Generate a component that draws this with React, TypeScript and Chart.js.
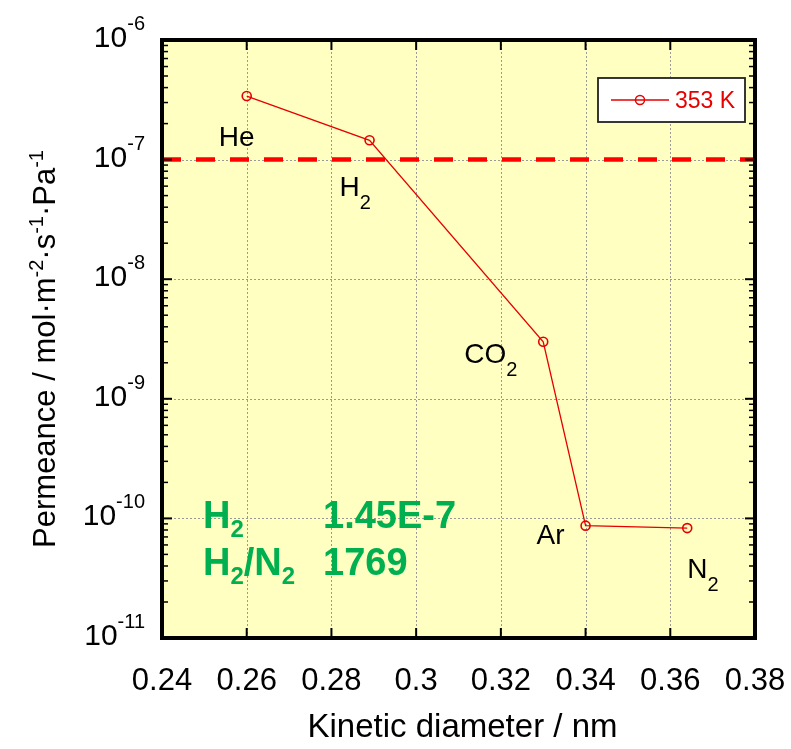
import React, { useEffect, useRef } from 'react';
import { Chart, registerables } from 'chart.js';

Chart.register(...registerables);

// ---- data ----
const gasNames = ['He', 'H2', 'CO2', 'Ar', 'N2'];
const kineticDiameterNm = [0.26, 0.289, 0.33, 0.34, 0.364];
const permeance353K = [3.4e-7, 1.45e-7, 3.0e-9, 8.7e-11, 8.3e-11];
const xTickValues = [0.24, 0.26, 0.28, 0.3, 0.32, 0.34, 0.36, 0.38];
const xTickLabels = ['0.24', '0.26', '0.28', '0.3', '0.32', '0.34', '0.36', '0.38'];
const yDecadeExponents = [-11, -10, -9, -8, -7, -6];
const targetPermeance = 1e-7;
const seriesLabel = '353 K';
const summaryNames = ['H2', 'H2/N2'];
const summaryValues = ['1.45E-7', '1769'];
const xTitle = 'Kinetic diameter / nm';

// ---- styles ----
const FONT = '"Liberation Sans", Arial, "Noto Sans", sans-serif';
const RED = '#E60000';
const GREEN = '#00B050';
const gasLabelOffsets: [number, number][] = [[-28, 50], [-30, 56], [-79, 21], [-49, 18], [0, 50]];

function drawRich(ctx: CanvasRenderingContext2D, text: string, x: number, y: number,
  font: string, subFont: string, subDy: number, color: string) {
  ctx.fillStyle = color;
  ctx.textAlign = 'left';
  ctx.textBaseline = 'alphabetic';
  let cx = x;
  for (let i = 0; i < text.length; i++) {
    const ch = text[i];
    const isSub = /[0-9]/.test(ch) && i > 0 && /[A-Za-z]/.test(text[i - 1]);
    ctx.font = isSub ? subFont : font;
    ctx.fillText(ch, cx, isSub ? y + subDy : y);
    cx += ctx.measureText(ch).width;
  }
  return cx;
}

function line(ctx: CanvasRenderingContext2D, x1: number, y1: number, x2: number, y2: number) {
  ctx.beginPath();
  ctx.moveTo(x1, y1);
  ctx.lineTo(x2, y2);
  ctx.stroke();
}

const framePlugin = {
  id: 'frameDecor',
  beforeDraw(chart: any) {
    const { ctx, chartArea: a } = chart;
    const xs = chart.scales.x;
    const ys = chart.scales.y;
    ctx.save();
    ctx.fillStyle = '#ffffff';
    ctx.fillRect(0, 0, chart.width, chart.height);
    ctx.fillStyle = '#FFFFC2';
    ctx.fillRect(a.left, a.top, a.right - a.left, a.bottom - a.top);
    ctx.strokeStyle = '#9a9a9a';
    ctx.lineWidth = 1;
    ctx.setLineDash([2, 2]);
    xTickValues.forEach((v) => {
      const px = Math.round(xs.getPixelForValue(v)) + 0.5;
      line(ctx, px, a.top, px, a.bottom);
    });
    yDecadeExponents.forEach((e) => {
      const py = Math.round(ys.getPixelForValue(Math.pow(10, e))) + 0.5;
      line(ctx, a.left, py, a.right, py);
    });
    ctx.restore();
  },
  afterDatasetsDraw(chart: any) {
    const { ctx, chartArea: a } = chart;
    const xs = chart.scales.x;
    const ys = chart.scales.y;
    ctx.save();
    ctx.setLineDash([]);

    // frame
    ctx.strokeStyle = '#000';
    ctx.lineWidth = 4;
    ctx.strokeRect(a.left, a.top, a.right - a.left, a.bottom - a.top);

    // x ticks (top & bottom)
    ctx.lineWidth = 2;
    xTickValues.forEach((v) => {
      const px = xs.getPixelForValue(v);
      line(ctx, px, a.top, px, a.top + 10);
      line(ctx, px, a.bottom, px, a.bottom - 10);
    });
    // y ticks (left & right)
    yDecadeExponents.forEach((e, idx) => {
      const py = ys.getPixelForValue(Math.pow(10, e));
      ctx.lineWidth = 2;
      line(ctx, a.left, py, a.left + 10, py);
      line(ctx, a.right, py, a.right - 10, py);
      if (idx < yDecadeExponents.length - 1) {
        ctx.lineWidth = 1.5;
        for (let k = 2; k <= 9; k++) {
          const pm = ys.getPixelForValue(k * Math.pow(10, e));
          line(ctx, a.left, pm, a.left + 6, pm);
          line(ctx, a.right, pm, a.right - 6, pm);
        }
      }
    });

    // x tick labels
    ctx.fillStyle = '#000';
    ctx.font = `31px ${FONT}`;
    ctx.textAlign = 'center';
    ctx.textBaseline = 'alphabetic';
    xTickValues.forEach((v, i) => {
      ctx.fillText(xTickLabels[i], xs.getPixelForValue(v), a.bottom + 52);
    });

    // y tick labels 10^n
    yDecadeExponents.forEach((e) => {
      const py = ys.getPixelForValue(Math.pow(10, e));
      const right = a.left - 17;
      ctx.font = `20px ${FONT}`;
      const expText = String(e);
      const w2 = ctx.measureText(expText).width;
      ctx.font = `30px ${FONT}`;
      const w1 = ctx.measureText('10').width;
      ctx.textAlign = 'left';
      ctx.fillText('10', right - w2 - w1, py + 7);
      ctx.font = `20px ${FONT}`;
      ctx.fillText(expText, right - w2, py - 10);
    });

    // x title
    ctx.font = `33px ${FONT}`;
    ctx.textAlign = 'center';
    ctx.fillText(xTitle, (a.left + a.right) / 2 + 4, a.bottom + 99);

    // y title (rotated, with superscripts)
    const parts: [string, boolean][] = [
      ['Permeance / mol\u00B7m', false], ['-2', true], ['\u00B7s', false], ['-1', true],
      ['\u00B7Pa', false], ['-1', true],
    ];
    const mainF = `31px ${FONT}`;
    const supF = `20px ${FONT}`;
    let total = 0;
    parts.forEach(([t, s]) => { ctx.font = s ? supF : mainF; total += ctx.measureText(t).width; });
    ctx.translate(55, (a.top + a.bottom) / 2 + 10);
    ctx.rotate(-Math.PI / 2);
    ctx.textAlign = 'left';
    let cx = -total / 2;
    parts.forEach(([t, s]) => {
      ctx.font = s ? supF : mainF;
      ctx.fillText(t, cx, s ? -12 : 0);
      cx += ctx.measureText(t).width;
    });
    ctx.setTransform(1, 0, 0, 1, 0, 0);

    // gas labels next to points
    gasNames.forEach((g, i) => {
      const px = xs.getPixelForValue(kineticDiameterNm[i]);
      const py = ys.getPixelForValue(permeance353K[i]);
      const [dx, dy] = gasLabelOffsets[i];
      drawRich(ctx, g, px + dx, py + dy, `28px ${FONT}`, `20px ${FONT}`, 13, '#000');
    });

    // legend box
    const ds = chart.data.datasets[0];
    const lx1 = a.right - 157, lx2 = a.right - 10, ly1 = a.top + 38, ly2 = a.top + 82;
    ctx.fillStyle = '#fff';
    ctx.fillRect(lx1, ly1, lx2 - lx1, ly2 - ly1);
    ctx.strokeStyle = '#222';
    ctx.lineWidth = 1.8;
    ctx.strokeRect(lx1, ly1, lx2 - lx1, ly2 - ly1);
    const lyMid = (ly1 + ly2) / 2;
    ctx.strokeStyle = ds.borderColor;
    ctx.lineWidth = 1.3;
    line(ctx, lx1 + 13, lyMid, lx1 + 71, lyMid);
    ctx.lineWidth = 1.5;
    ctx.beginPath();
    ctx.arc(lx1 + 42, lyMid, 4.5, 0, Math.PI * 2);
    ctx.stroke();
    ctx.fillStyle = ds.borderColor;
    ctx.font = `23px ${FONT}`;
    ctx.textAlign = 'left';
    ctx.fillText(ds.label, lx1 + 77, lyMid + 8);

    // green summary
    summaryNames.forEach((n, i) => {
      const by = a.bottom - 110 + i * 47;
      drawRich(ctx, n, a.left + 41, by, `bold 38px ${FONT}`, `bold 24px ${FONT}`, 9, GREEN);
      ctx.font = `bold 38px ${FONT}`;
      ctx.fillStyle = GREEN;
      ctx.fillText(summaryValues[i], a.left + 161, by);
    });

    ctx.restore();
  },
};

export default function App() {
  const ref = useRef<HTMLCanvasElement | null>(null);
  useEffect(() => {
    if (!ref.current) return;
    const chart = new Chart(ref.current, {
      type: 'line',
      data: {
        datasets: [
          {
            label: seriesLabel,
            data: kineticDiameterNm.map((x, i) => ({ x, y: permeance353K[i] })),
            borderColor: RED,
            borderWidth: 1.3,
            pointRadius: 4.5,
            pointBorderWidth: 1.6,
            pointBorderColor: RED,
            pointBackgroundColor: 'rgba(0,0,0,0)',
            pointStyle: 'circle',
            tension: 0,
          },
          {
            label: 'target',
            data: [
              { x: xTickValues[0], y: targetPermeance },
              { x: xTickValues[xTickValues.length - 1], y: targetPermeance },
            ],
            borderColor: '#FF0000',
            borderWidth: 4.5,
            borderDash: [19, 15],
            pointRadius: 0,
          },
        ],
      },
      options: {
        animation: false,
        responsive: false,
        layout: { padding: { left: 162, top: 40, right: 36, bottom: 111 } },
        plugins: { legend: { display: false }, tooltip: { enabled: false } },
        scales: {
          x: { type: 'linear', min: 0.24, max: 0.38, display: false },
          y: { type: 'logarithmic', min: 1e-11, max: 1e-6, display: false },
        },
      },
      plugins: [framePlugin],
    } as any);
    return () => chart.destroy();
  }, []);
  return (
    <div style={{ position: 'absolute', left: 0, top: 0, width: 791, height: 749 }}>
      <canvas ref={ref} width={791} height={749} style={{ width: 791, height: 749, display: 'block' }} />
    </div>
  );
}
